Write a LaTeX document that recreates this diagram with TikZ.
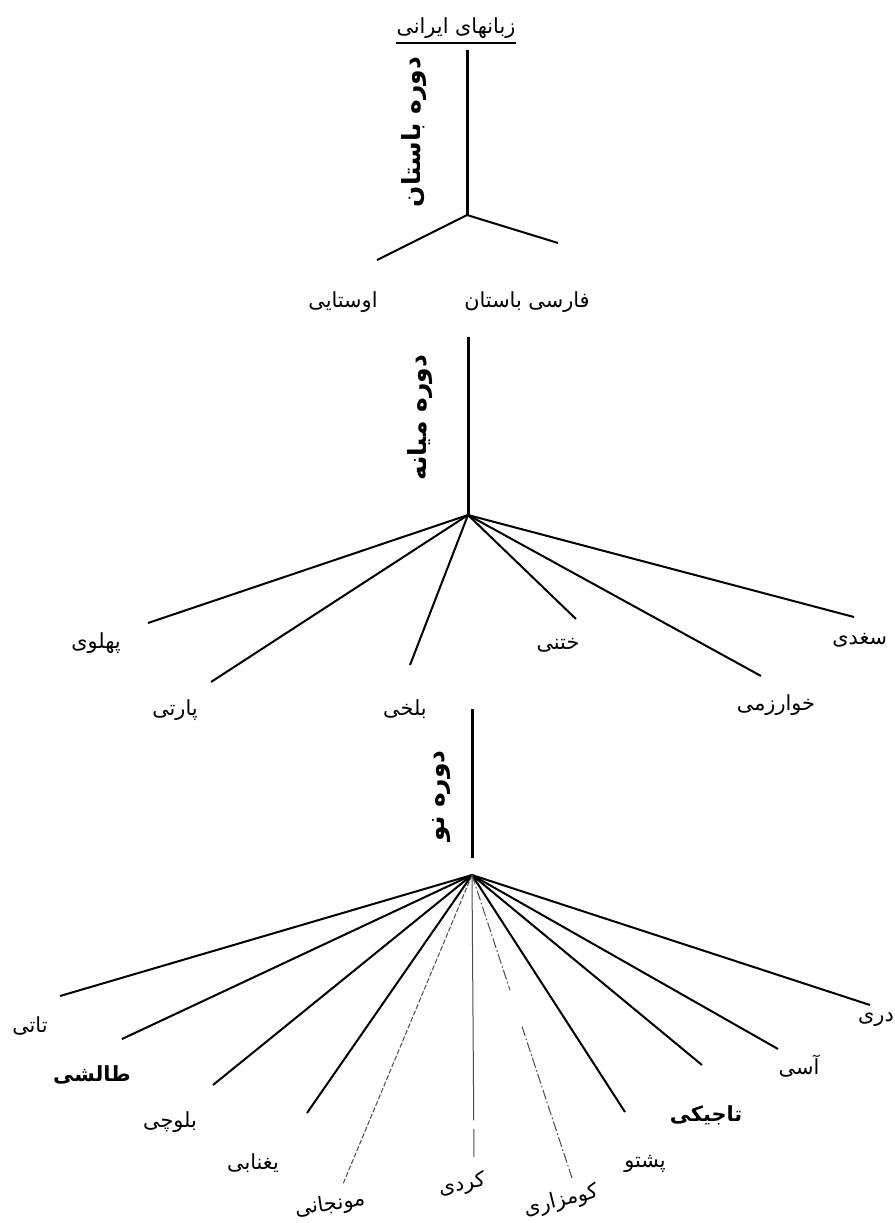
\documentclass[tikz,border=0pt]{standalone}
\usepackage{fontspec}
\newfontfamily\fa[Script=Arabic]{DejaVu Sans}
\TeXXeTstate=1
\usetikzlibrary{calc}
\newcommand{\rtl}[1]{\beginR #1\endR}
\begin{document}
\begin{tikzpicture}[x=0.6pt,y=-0.6pt,
  lbl/.style={font=\fa\fontsize{12.5}{14}\selectfont, inner sep=0pt},
  boldlbl/.style={font=\fa\bfseries\fontsize{12.5}{14}\selectfont, inner sep=0pt},
  era/.style={font=\fa\bfseries\fontsize{15}{17}\selectfont, rotate=90, inner sep=0pt},
  branch/.style={line width=1.2pt},
  stem/.style={line width=1.8pt},
  faint/.style={line width=0.6pt, black!70}]
\useasboundingbox[fill=white] (0,0) rectangle (895,1223);

% title
\node[lbl] (title) at (456,28) {\rtl{زبانهای ایرانی}};
\draw[line width=0.9pt] ([yshift=-2.5pt]title.south west) -- ([yshift=-2.5pt]title.south east);

% ancient period
\coordinate (s1) at (467,50);
\coordinate (j1) at (467,215);
\draw[stem] (s1) -- (j1);
\node[era] (era1) at (414,132) {\rtl{دوره باستان}};
\coordinate (avE) at (377,260);
\coordinate (opE) at (558,243);
\draw[branch] (j1) -- (avE);
\draw[branch] (j1) -- (opE);
\node[lbl] (av) at (343,302) {\rtl{اوستایی}};
\node[lbl] (op) at (527,302) {\rtl{فارسی باستان}};

% middle period
\coordinate (s2) at (468,337);
\coordinate (j2) at (468,515);
\draw[stem] (s2) -- (j2);
\node[era] (era2) at (420,418) {\rtl{دوره میانه}};
\coordinate (pahE) at (148,623);
\coordinate (parE) at (211,682);
\coordinate (balE) at (410,665);
\coordinate (khoE) at (576,619);
\coordinate (khwE) at (761,676);
\coordinate (sogE) at (854,617);
\foreach \e in {pahE,parE,balE,khoE,khwE,sogE} \draw[branch] (j2) -- (\e);
\node[lbl] (pah) at (96,643) {\rtl{پهلوی}};
\node[lbl] (par) at (175,710) {\rtl{پارتی}};
\node[lbl] (bal) at (405,709) {\rtl{بلخی}};
\node[lbl] (kho) at (558,645) {\rtl{ختنی}};
\node[lbl] (khw) at (776,705) {\rtl{خوارزمی}};
\node[lbl,anchor=west] (sog) at (832,640) {\rtl{سغدی}};

% new period
\coordinate (s3t) at (472,709);
\coordinate (s3b) at (472,858);
\coordinate (j3) at (472,875);
\draw[stem] (s3t) -- (s3b);
\node[era] (era3) at (442,796) {\rtl{دوره نو}};
\coordinate (tatE) at (60,996);
\coordinate (talE) at (122,1039);
\coordinate (bloE) at (213,1085);
\coordinate (yagE) at (307,1113);
\coordinate (munE) at (343,1184);
\coordinate (kurE) at (474,1157);
\coordinate (kumE) at (572,1178);
\coordinate (pasE) at (625,1112);
\coordinate (tajE) at (702,1065);
\coordinate (osE) at (778,1049);
\coordinate (darE) at (870,1005);
\foreach \e in {tatE,talE,bloE,yagE,pasE,tajE,osE,darE} \draw[branch] (j3) -- (\e);
\draw[faint, dash pattern=on 3pt off 1.2pt] (j3) -- (munE);
\draw[faint] (j3) -- ($(j3)!0.87!(kurE)$);
\draw[faint] ($(j3)!0.90!(kurE)$) -- (kurE);
\draw[faint, dash pattern=on 6pt off 1.5pt on 1pt off 1.5pt] (j3) -- ($(j3)!0.38!(kumE)$);
\draw[faint, dash pattern=on 6pt off 1.5pt on 1pt off 1.5pt] ($(j3)!0.50!(kumE)$) -- (kumE);

\node[lbl] (tat) at (30,1026) {\rtl{تاتی}};
\node[boldlbl] (tal) at (92,1075) {\rtl{طالشی}};
\node[lbl] (blo) at (170,1122) {\rtl{بلوچی}};
\node[lbl] (yag) at (253,1163) {\rtl{یغنابی}};
\node[lbl, rotate=8] (mun) at (330,1205) {\rtl{مونجانی}};
\node[lbl, rotate=10] (kur) at (462,1185) {\rtl{کردی}};
\node[lbl, rotate=14] (kum) at (561,1201) {\rtl{کومزاری}};
\node[lbl] (pas) at (645,1164) {\rtl{پشتو}};
\node[boldlbl] (taj) at (706,1115) {\rtl{تاجیکی}};
\node[lbl] (os) at (799,1066) {\rtl{آسی}};
\node[lbl] (dar) at (876,1020) {\rtl{دری}};
\end{tikzpicture}
\end{document}
